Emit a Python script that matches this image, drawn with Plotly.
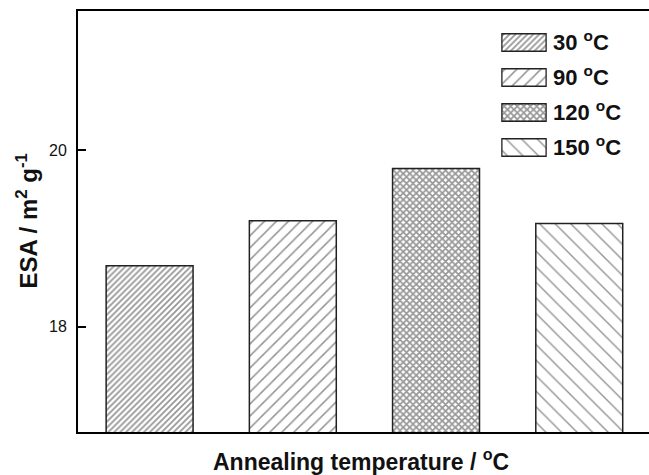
import plotly.graph_objects as go

# Electrochemical surface area at each annealing temperature
temps = ["30 °C", "90 °C", "120 °C", "150 °C"]
esa = [18.69, 19.20, 19.79, 19.17]
key_labels = ["30 <sup>o</sup>C", "90 <sup>o</sup>C", "120 <sup>o</sup>C", "150 <sup>o</sup>C"]
key_length = [1, 1, 1, 1]

# Fill pattern for each bar: (shape, tile size, solidity)
patterns = [("/", 4.2, 0.42), ("/", 8.5, 0.18), ("x", 4.6, 0.62), ("\\", 11, 0.13)]

FONT = "Liberation Sans, Arial, sans-serif"
EDGE = "#222222"
HATCH = "#2e2e2e"

fig = go.Figure()

for name, val, (shape, size, sol) in zip(temps, esa, patterns):
    fig.add_trace(go.Bar(
        x=[name], y=[val], width=0.607, showlegend=False,
        marker=dict(color="white",
                    line=dict(color=EDGE, width=1.5),
                    pattern=dict(shape=shape, size=size, solidity=sol,
                                 fgcolor=HATCH, bgcolor="white", fillmode="overlay")),
        hoverinfo="skip",
    ))

# Key: one patterned box per temperature, labels on the right
for lab, ln, (shape, size, sol) in zip(key_labels, key_length, patterns):
    fig.add_trace(go.Bar(
        x=[ln], y=[lab], orientation="h", width=0.5, showlegend=False,
        xaxis="x2", yaxis="y2",
        marker=dict(color="white",
                    line=dict(color=EDGE, width=1.3),
                    pattern=dict(shape=shape, size=size, solidity=sol,
                                 fgcolor=HATCH, bgcolor="white", fillmode="overlay")),
        hoverinfo="skip",
    ))

W, H = 649, 475
L, R, T, B = 78, 0, 11, 43
plot_w = W - L - R
plot_h = H - T - B

def px(pix):
    return (pix - L) / plot_w

def py(pix):
    return (H - B - pix) / plot_h

fig.update_layout(
    width=W, height=H,
    margin=dict(l=L, r=R, t=T, b=B, autoexpand=False),
    plot_bgcolor="white", paper_bgcolor="white",
    xaxis=dict(type="category", categoryorder="array", categoryarray=temps,
               range=[-0.5, 3.487], showticklabels=False, ticks="",
               showline=True, linecolor="black", linewidth=1.8, mirror=True,
               showgrid=False, zeroline=False),
    yaxis=dict(range=[16.81, 21.573], tickvals=[18, 20], ticks="inside",
               ticklen=8, tickwidth=1.5, tickcolor="black",
               showline=True, linecolor="black", linewidth=1.8,
               showgrid=False, zeroline=False,
               tickfont=dict(family=FONT, size=16, color="#111"),
               ticklabelstandoff=6),
    xaxis2=dict(domain=[px(501), px(547)], anchor="y2", range=[-0.02, 1.02],
                visible=False, fixedrange=True),
    yaxis2=dict(domain=[py(165), py(25)], anchor="x2", type="category",
                categoryorder="array", categoryarray=key_labels,
                range=[3.5, -0.5], side="right", showline=False, showgrid=False,
                zeroline=False, ticks="",
                tickfont=dict(family=FONT, size=22, color="#111", weight="bold"),
                ticklabelstandoff=5),
    annotations=[
        dict(text="ESA / m<sup>2</sup> g<sup>-1</sup>", textangle=-90,
             xref="paper", yref="paper", x=px(26), y=0.5,
             xanchor="center", yanchor="middle", showarrow=False,
             font=dict(family=FONT, size=24, color="#111", weight="bold")),
        dict(text="Annealing temperature / <sup>o</sup>C",
             xref="paper", yref="paper", x=px(361), y=py(460),
             xanchor="center", yanchor="middle", showarrow=False,
             font=dict(family=FONT, size=23, color="#111", weight="bold")),
    ],
)

fig.write_html("out.html")
